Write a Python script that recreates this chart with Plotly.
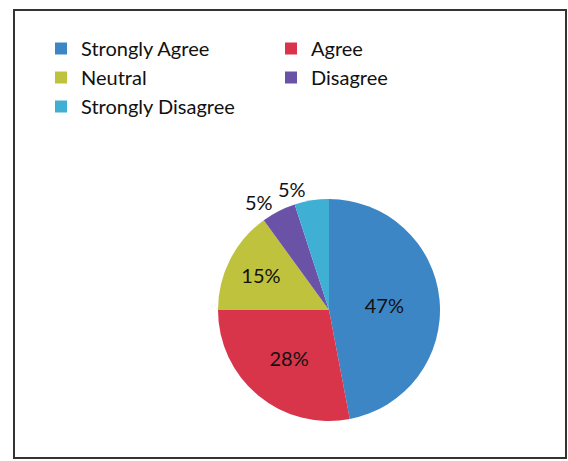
import plotly.graph_objects as go

categories = ["Strongly Agree", "Agree", "Neutral", "Disagree", "Strongly Disagree"]
values = [47, 28, 15, 5, 5]
colors = ["#3d86c6", "#d8344a", "#bfc23c", "#6a53a6", "#3fafd3"]

W, H = 568, 461
cx, cy, r = 329, 310, 111
domain = dict(x=[(cx - r) / W, (cx + r) / W], y=[(H - cy - r) / H, (H - cy + r) / H])
label_font = dict(family="Lato", size=20, color="#111111")

# main pie: coloured slices, labels for all but the last small slice
fig = go.Figure(go.Pie(
    labels=categories,
    values=values,
    sort=False,
    direction="clockwise",
    rotation=0,
    marker=dict(colors=colors, line=dict(width=0)),
    texttemplate="%{percent:.0%}",
    textposition=["inside", "inside", "inside", "outside", "none"],
    insidetextorientation="horizontal",
    textfont=label_font,
    domain=domain,
    hoverinfo="label+percent",
    showlegend=True,
))
# same pie geometry, transparent, only carries the last slice's label
fig.add_trace(go.Pie(
    labels=categories,
    values=values,
    sort=False,
    direction="clockwise",
    rotation=0,
    marker=dict(colors=["rgba(0,0,0,0)"] * len(values), line=dict(width=0)),
    texttemplate="%{percent:.0%}",
    textposition=["none", "none", "none", "none", "outside"],
    textfont=label_font,
    domain=domain,
    hoverinfo="skip",
    showlegend=False,
))

fig.update_layout(
    width=W, height=H,
    margin=dict(l=0, r=0, t=0, b=0),
    paper_bgcolor="white",
    plot_bgcolor="white",
    font=dict(family="Lato", size=20, color="#111111"),
    legend=dict(
        orientation="h",
        x=41 / W, y=(H - 29) / H,
        xanchor="left", yanchor="top",
        entrywidth=185, entrywidthmode="pixels",
        itemwidth=30,
        font=dict(family="Lato", size=20, color="#111111"),
        bgcolor="rgba(0,0,0,0)",
    ),
    shapes=[dict(
        type="rect", xref="paper", yref="paper",
        x0=14 / W, x1=566 / W, y0=(H - 458) / H, y1=(H - 10) / H,
        line=dict(color="#333333", width=2), fillcolor="rgba(0,0,0,0)",
    )],
)

fig.write_html("out.html", config={"displayModeBar": False},
               post_script="document.body.style.margin='0';")
